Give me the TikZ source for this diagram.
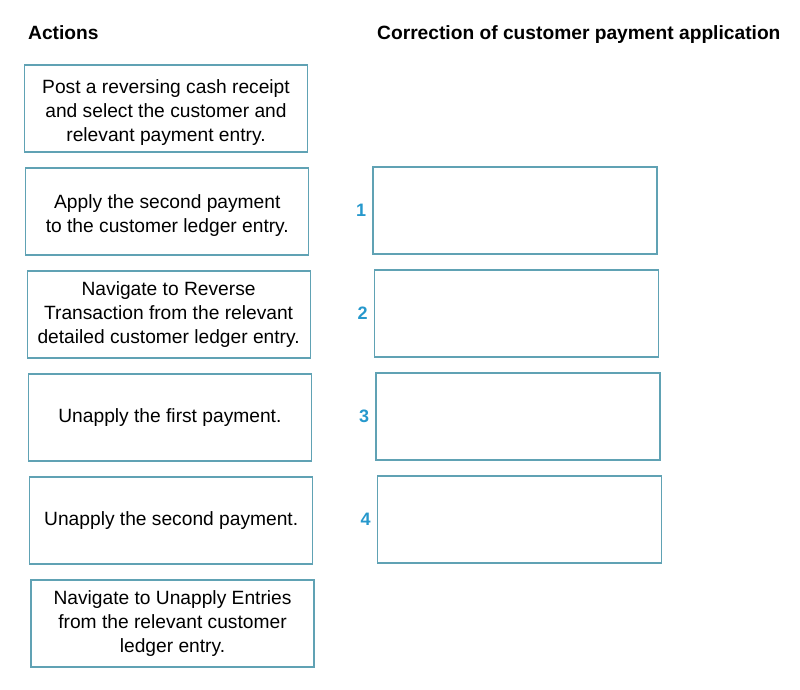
\documentclass[tikz,border=0pt]{standalone}
\usepackage{fontspec}
\setmainfont{Liberation Sans}
\usetikzlibrary{positioning}
\definecolor{boxline}{RGB}{96,162,180}
\definecolor{numblue}{RGB}{38,152,204}
\newcommand{\lift}[1]{\rule{0pt}{#1}}
\tikzstyle{action} = [rectangle, draw=boxline, line width=1.2pt, fill=white, minimum width=283pt, minimum height=87pt, align=center, font=\fontsize{19.2}{24}\selectfont, node distance=103pt]
\tikzstyle{slot} = [rectangle, draw=boxline, line width=1.2pt, fill=white, minimum width=284pt, minimum height=87pt, node distance=103pt]
\tikzstyle{num} = [text=numblue, font=\bfseries\fontsize{18}{20}\selectfont, inner sep=2pt]
\tikzstyle{title} = [anchor=west, inner sep=0pt, font=\bfseries\fontsize{19.2}{22}\selectfont]

\begin{document}
\begin{tikzpicture}[x=1pt, y=-1pt]
	\useasboundingbox (0,0) rectangle (800,690);
	\node [title] (actions) at (28,33) {Actions};
	\node [title] (correction) at (377,35) {Correction of customer payment application};
	\node [action] (a1) at (166,108.5) {\lift{21pt}Post a reversing cash receipt\\and select the customer and\\relevant payment entry.};
	\node [action, below of=a1, xshift=1.3pt] (a2) {\lift{21pt}Apply the second payment\\to the customer ledger entry.};
	\node [action, below of=a2, xshift=1.3pt] (a3) {Navigate to Reverse\\Transaction from the relevant\\detailed customer ledger entry.};
	\node [action, below of=a3, xshift=1.3pt] (a4) {Unapply the first payment.};
	\node [action, below of=a4, xshift=1.3pt] (a5) {Unapply the second payment.};
	\node [action, below of=a5, xshift=1.3pt] (a6) {Navigate to Unapply Entries\\from the relevant customer\\ledger entry.};
	\node [slot] (s1) at (515,210.5) {};
	\node [slot, below of=s1, xshift=1.5pt] (s2) {};
	\node [slot, below of=s2, xshift=1.5pt] (s3) {};
	\node [slot, below of=s3, xshift=1.5pt] (s4) {};
	\node [num, left=4pt of s1] (n1) {1};
	\node [num, left=4pt of s2] (n2) {2};
	\node [num, left=4pt of s3] (n3) {3};
	\node [num, left=4pt of s4] (n4) {4};
\end{tikzpicture}
\end{document}
